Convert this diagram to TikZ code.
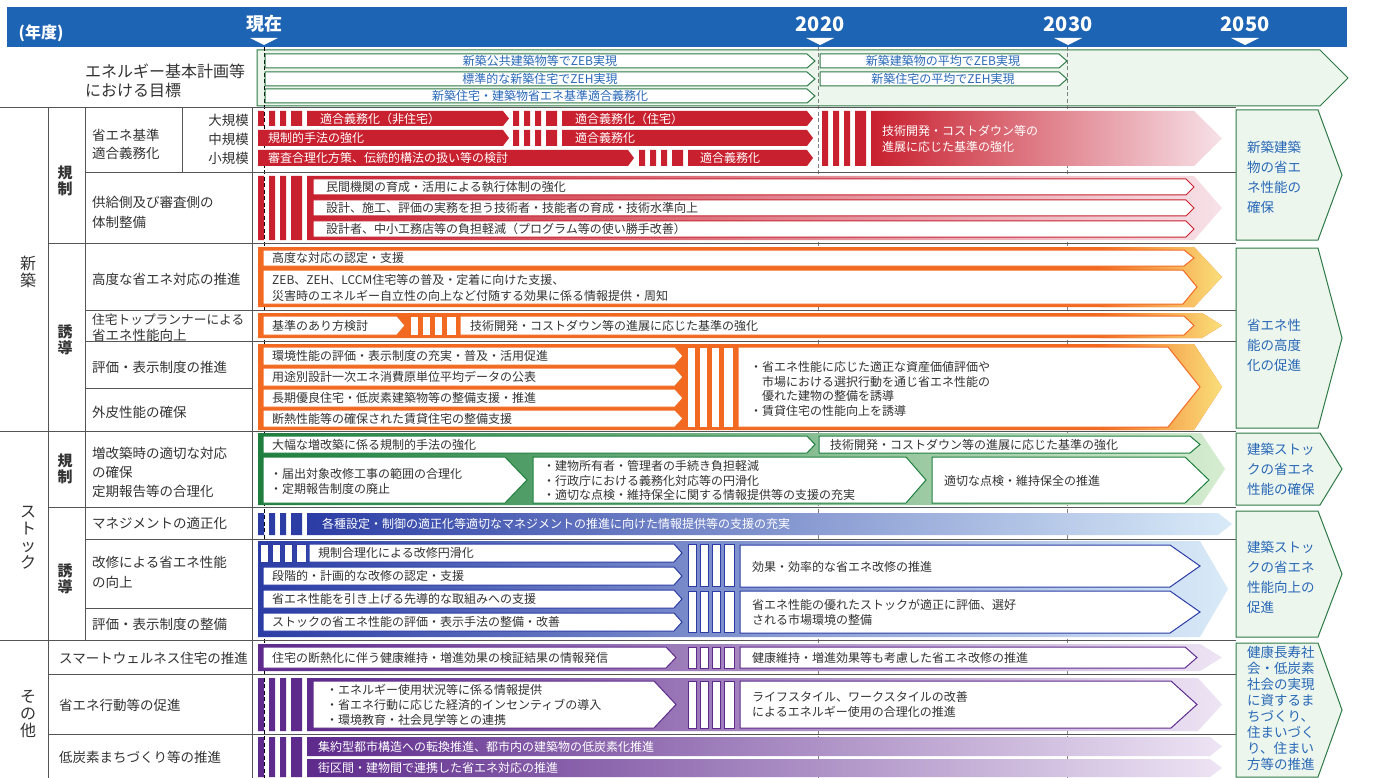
\documentclass[tikz,border=0pt]{standalone}
\usepackage{fontspec}
\setmainfont{Noto Sans CJK JP}
\definecolor{hdr}{HTML}{1E64B4}
\definecolor{gfill}{HTML}{EDF6EC}
\definecolor{gdraw}{HTML}{2E7A47}
\definecolor{gtext}{HTML}{2868B8}
\definecolor{rd}{HTML}{C8202E}
\definecolor{pk}{HTML}{F7E1E8}
\definecolor{org}{HTML}{F26A22}
\definecolor{yel}{HTML}{FAE27C}
\definecolor{grn}{HTML}{1F7F3F}
\definecolor{lgrn}{HTML}{D5ECD0}
\definecolor{blu}{HTML}{2B3DA5}
\definecolor{lblu}{HTML}{D9EBF8}
\definecolor{pur}{HTML}{5E2A8C}
\definecolor{lpur}{HTML}{EDE4F4}
\definecolor{txt}{HTML}{333333}
\definecolor{gridc}{HTML}{555555}
\newcommand\chev[6][]{\path[#1] (#2,#3) -- ({#4-#6},#3) -- (#4,{(#3+#5)/2}) -- ({#4-#6},#5) -- (#2,#5) -- cycle;}
\newcommand\chevclip[5]{\clip (#1,#2) -- ({#3-#5},#2) -- (#3,{(#2+#4)/2}) -- ({#3-#5},#4) -- (#1,#4) -- cycle;}
\newcommand\rstripes[4]{\fill[#1] (#2,#3) rectangle ({#2+6},#4) ({#2+11},#3) rectangle ({#2+17},#4) ({#2+22},#3) rectangle ({#2+28},#4) ({#2+33},#3) rectangle ({#2+44},#4);}
\newcommand\wstripes[4]{\path[fill=white,draw=#1,line width=0.8pt] (#2,#3) rectangle ({#2+8},#4) ({#2+12},#3) rectangle ({#2+20},#4) ({#2+24},#3) rectangle ({#2+32},#4) ({#2+36},#3) rectangle ({#2+46},#4);}
\newcommand\orgbg[3]{\chev[fill=org]{258}{#1}{1222}{#2}{#3}
 \begin{scope}\chevclip{258}{#1}{1222}{#2}{#3}\shade[left color=org,right color=yel] (1100,#1) rectangle (1225,#2);\end{scope}}
\tikzset{
  wa/.style={fill=white,draw=#1,line width=1pt},
  goalbox/.style={fill=gfill,draw=gdraw,line width=1pt},
  bt/.style={anchor=west,inner sep=0pt,font=\fontsize{12}{15}\selectfont,text=txt},
  wt/.style={bt,text=white},
  bl/.style={inner sep=0pt,font=\fontsize{12}{15}\selectfont,text=gtext},
  lab/.style={anchor=west,inner sep=0pt,font=\fontsize{13.5}{17}\selectfont,text=txt},
  sect/.style={inner sep=0pt,font=\fontsize{16}{17}\selectfont,text=txt,align=center},
  subl/.style={inner sep=0pt,font=\bfseries\fontsize{15}{16}\selectfont,text=txt,align=center},
  gt/.style={anchor=west,inner sep=0pt,text=gtext,align=left,font=\fontsize{13.5}{20}\selectfont},
  hd/.style={inner sep=0pt,text=white,font=\bfseries\fontsize{20}{22}\selectfont},
  rowline/.style={draw=gridc,line width=0.9pt},
  tl/.style={draw=#1,line width=0.8pt,dash pattern=on 4pt off 2.5pt},
}
\begin{document}
\begin{tikzpicture}[x=1pt,y=-1pt]
\useasboundingbox (0,0) rectangle (1373,778);
\fill[white] (0,0) rectangle (1373,778);
% header
\fill[hdr] (7,7) rectangle (1347,47);
\node[hd,font=\bfseries\fontsize{16}{18}\selectfont] (yr) at (41,33) {(年度)};
\node[hd,font=\bfseries\fontsize{18}{20}\selectfont] (now) at (264,24) {現在};
\node[hd] (y20) at (820,24) {2020};
\node[hd] (y30) at (1068,24) {2030};
\node[hd] (y50) at (1245,24) {2050};
\foreach \x in {264,820,1068,1245} \fill[white] ({\x-14},38) -- ({\x+14},38) -- (\x,45) -- cycle;
% goal row
\chev[goalbox]{257}{50}{1348}{106}{28}
% time lines and grid
\draw[tl=black] (264,47) -- (264,778);
\draw[tl=gray] (818,47) -- (818,778);
\draw[tl=gray] (1067,47) -- (1067,778);
\draw[rowline] (0,107) -- (1236,107);
\draw[rowline] (85,172) -- (1236,172);
\draw[rowline] (48,243) -- (1236,243);
\draw[rowline] (85,310) -- (1236,310);
\draw[rowline] (85,341) -- (1236,341);
\draw[rowline] (85,388) -- (252,388);
\draw[rowline] (0,431) -- (1236,431);
\draw[rowline] (48,507) -- (1236,507);
\draw[rowline] (85,539) -- (1236,539);
\draw[rowline] (85,608) -- (252,608);
\draw[rowline] (0,640) -- (1236,640);
\draw[rowline] (48,674) -- (1236,674);
\draw[rowline] (48,734) -- (1236,734);
\draw[rowline] (48,107) -- (48,778);
\draw[rowline] (85,107) -- (85,640);
\draw[rowline] (252,107) -- (252,778);
\draw[rowline] (182,107) -- (182,172);
% goal row inner arrows
\chev[wa=gdraw]{265}{54}{815}{68}{8}
\chev[wa=gdraw]{265}{72}{815}{86}{8}
\chev[wa=gdraw]{265}{89}{815}{103}{8}
\chev[wa=gdraw]{820}{54}{1067}{68}{8}
\chev[wa=gdraw]{820}{72}{1067}{86}{8}
\node[bl] (m1) at (540,61) {新築公共建築物等でZEB実現};
\node[bl] (m2) at (540,79) {標準的な新築住宅でZEH実現};
\node[bl] (m3) at (540,96) {新築住宅・建築物省エネ基準適合義務化};
\node[bl] (m4) at (943,61) {新築建築物の平均でZEB実現};
\node[bl] (m5) at (943,79) {新築住宅の平均でZEH実現};
\node[anchor=west,inner sep=0pt,font=\fontsize{16}{18}\selectfont,text=txt] (mg1) at (85,71) {エネルギー基本計画等};
\node[anchor=west,inner sep=0pt,font=\fontsize{16}{18}\selectfont,text=txt] (mg2) at (85,90) {における目標};
% ===== red: 新築 規制
\rstripes{rd}{258}{111}{126}
\chev[fill=rd]{307}{111}{509}{126}{6}
\rstripes{rd}{513}{111}{126}
\chev[fill=rd]{562}{111}{813}{126}{6}
\chev[fill=rd]{258}{130}{509}{146}{6}
\rstripes{rd}{513}{130}{146}
\chev[fill=rd]{562}{130}{813}{146}{6}
\chev[fill=rd]{258}{150}{634}{166}{6}
\rstripes{rd}{639}{150}{166}
\chev[fill=rd]{688}{150}{813}{166}{6}
\rstripes{rd}{822}{111}{166}
\chev[left color=rd,middle color=rd!75!pk,right color=pk]{871}{111}{1222}{166}{28}
\node[wt] (r1) at (320,118.5) {適合義務化（非住宅）};
\node[wt] (r2) at (575,118.5) {適合義務化（住宅）};
\node[wt] (r3) at (268,138) {規制的手法の強化};
\node[wt] (r4) at (575,138) {適合義務化};
\node[wt] (r5) at (268,158) {審査合理化方策、伝統的構法の扱い等の検討};
\node[wt] (r6) at (700,158) {適合義務化};
\node[wt] (r7) at (882,131) {技術開発・コストダウン等の};
\node[wt] (r8) at (882,147) {進展に応じた基準の強化};
\rstripes{rd}{258}{176}{240}
\chev[left color=rd,right color=pk]{307}{176}{1222}{240}{28}
\chev[wa=rd]{313}{179}{1194}{195}{8}
\chev[wa=rd]{313}{200}{1194}{216}{8}
\chev[wa=rd]{313}{221}{1194}{237}{8}
\node[bt] (r9) at (326,187) {民間機関の育成・活用による執行体制の強化};
\node[bt] (r10) at (326,208) {設計、施工、評価の実務を担う技術者・技能者の育成・技術水準向上};
\node[bt] (r11) at (326,229) {設計者、中小工務店等の負担軽減（プログラム等の使い勝手改善）};
% ===== orange: 新築 誘導
\orgbg{247}{307}{28}
\chev[wa=org]{263}{250}{1194}{266}{10}
\chev[wa=org]{263}{270}{1197}{304}{14}
\node[bt] (o1) at (272,258) {高度な対応の認定・支援};
\node[bt] (o2) at (272,280) {ZEB、ZEH、LCCM住宅等の普及・定着に向けた支援、};
\node[bt] (o3) at (272,296) {災害時のエネルギー自立性の向上など付随する効果に係る情報提供・周知};
\orgbg{313}{338}{20}
\chev[wa=org]{263}{316}{405}{335}{8}
\wstripes{org}{410}{316}{335}
\chev[wa=org]{460}{316}{1194}{335}{10}
\node[bt] (o4) at (272,325.5) {基準のあり方検討};
\node[bt] (o5) at (470,325.5) {技術開発・コストダウン等の進展に応じた基準の強化};
\orgbg{344}{430}{28}
\chev[wa=org]{263}{347}{683}{365}{8}
\chev[wa=org]{263}{368}{683}{386}{8}
\chev[wa=org]{263}{389}{683}{407}{8}
\chev[wa=org]{263}{410}{683}{427}{8}
\wstripes{org}{687}{347}{427}
\chev[wa=org]{738}{347}{1200}{427}{32}
\node[bt] (o6) at (272,356) {環境性能の評価・表示制度の充実・普及・活用促進};
\node[bt] (o7) at (272,377) {用途別設計一次エネ消費原単位平均データの公表};
\node[bt] (o8) at (272,398) {長期優良住宅・低炭素建築物等の整備支援・推進};
\node[bt] (o9) at (272,418.5) {断熱性能等の確保された賃貸住宅の整備支援};
\node[bt] (o10) at (750,367) {・省エネ性能に応じた適正な資産価値評価や};
\node[bt] (o11) at (762,381.5) {市場における選択行動を通じ省エネ性能の};
\node[bt] (o12) at (762,396) {優れた建物の整備を誘導};
\node[bt] (o13) at (750,411) {・賃貸住宅の性能向上を誘導};
% ===== green: ストック 規制
\chev[left color=grn,right color=lgrn]{258}{433}{1225}{505}{24}
\chev[wa=grn]{263}{436}{815}{453}{8}
\chev[wa=grn]{819}{436}{1200}{453}{10}
\chev[wa=grn]{263}{457}{527}{503}{22}
\chev[wa=grn]{533}{457}{926}{503}{20}
\chev[wa=grn]{932}{457}{1209}{503}{24}
\node[bt] (s1) at (272,445) {大幅な増改築に係る規制的手法の強化};
\node[bt] (s2) at (830,445) {技術開発・コストダウン等の進展に応じた基準の強化};
\node[bt] (s3) at (270,474) {・届出対象改修工事の範囲の合理化};
\node[bt] (s4) at (270,489) {・定期報告制度の廃止};
\node[bt] (s5) at (543,466) {・建物所有者・管理者の手続き負担軽減};
\node[bt] (s6) at (543,480.5) {・行政庁における義務化対応等の円滑化};
\node[bt] (s7) at (543,495) {・適切な点検・維持保全に関する情報提供等の支援の充実};
\node[bt] (s8) at (944,481) {適切な点検・維持保全の推進};
% ===== blue: ストック 誘導
\rstripes{blu}{258}{513}{535}
\chev[left color=blu,right color=lblu]{307}{513}{1232}{535}{14}
\node[wt] (b1) at (322,524) {各種設定・制御の適正化等適切なマネジメントの推進に向けた情報提供等の支援の充実};
\chev[left color=blu,right color=lblu]{258}{541}{1228}{637}{28}
\wstripes{blu}{260}{544}{562}
\chev[wa=blu]{309}{544}{682}{562}{8}
\chev[wa=blu]{263}{567}{682}{585}{8}
\chev[wa=blu]{263}{590}{682}{608}{8}
\chev[wa=blu]{263}{613}{682}{631}{8}
\wstripes{blu}{688}{544}{586}
\wstripes{blu}{688}{591}{632}
\chev[wa=blu]{740}{545}{1200}{587}{30}
\chev[wa=blu]{740}{591}{1200}{633}{30}
\node[bt] (b2) at (318,553) {規制合理化による改修円滑化};
\node[bt] (b3) at (272,576) {段階的・計画的な改修の認定・支援};
\node[bt] (b4) at (272,599) {省エネ性能を引き上げる先導的な取組みへの支援};
\node[bt] (b5) at (272,622) {ストックの省エネ性能の評価・表示手法の整備・改善};
\node[bt] (b6) at (752,567) {効果・効率的な省エネ改修の推進};
\node[bt] (b7) at (752,605) {省エネ性能の優れたストックが適正に評価、選好};
\node[bt] (b8) at (752,620) {される市場環境の整備};
% ===== purple: その他
\chev[left color=pur,right color=lpur]{258}{644}{1222}{671}{22}
\chev[wa=pur]{263}{647}{676}{668}{10}
\wstripes{pur}{688}{647}{668}
\chev[wa=pur]{740}{647}{1197}{668}{12}
\node[bt] (p1) at (272,658) {住宅の断熱化に伴う健康維持・増進効果の検証結果の情報発信};
\node[bt] (p2) at (752,658) {健康維持・増進効果等も考慮した省エネ改修の推進};
\rstripes{pur}{258}{678}{731}
\chev[left color=pur,right color=lpur]{307}{678}{1222}{731}{24}
\chev[wa=pur]{313}{681}{676}{728}{22}
\wstripes{pur}{688}{681}{728}
\chev[wa=pur]{740}{681}{1197}{728}{26}
\node[bt] (p3) at (326,690) {・エネルギー使用状況等に係る情報提供};
\node[bt] (p4) at (326,705) {・省エネ行動に応じた経済的インセンティブの導入};
\node[bt] (p5) at (326,720) {・環境教育・社会見学等との連携};
\node[bt] (p6) at (752,697) {ライフスタイル、ワークスタイルの改善};
\node[bt] (p7) at (752,712) {によるエネルギー使用の合理化の推進};
\rstripes{pur}{258}{737}{777}
\chev[left color=pur,right color=lpur]{307}{737}{1222}{756}{12}
\chev[left color=pur,right color=lpur]{307}{759}{1222}{777}{12}
\node[wt] (p8) at (318,747) {集約型都市構造への転換推進、都市内の建築物の低炭素化推進};
\node[wt] (p9) at (318,768) {街区間・建物間で連携した省エネ対応の推進};
% ===== goals
\chev[goalbox]{1236}{110}{1342}{240}{24}
\chev[goalbox]{1236}{248}{1342}{428}{24}
\chev[goalbox]{1236}{433}{1342}{505}{22}
\chev[goalbox]{1236}{511}{1342}{637}{24}
\chev[goalbox]{1236}{643}{1342}{777}{24}
\node[gt] (g1) at (1247,177) {新築建築\\物の省エ\\ネ性能の\\確保};
\node[gt] (g2) at (1247,345) {省エネ性\\能の高度\\化の促進};
\node[gt] (g3) at (1247,469) {建築ストッ\\クの省エネ\\性能の確保};
\node[gt] (g4) at (1247,577) {建築ストッ\\クの省エネ\\性能向上の\\促進};
\node[gt,font=\fontsize{13.5}{16}\selectfont] (g5) at (1247,708) {健康長寿社\\会・低炭素\\社会の実現\\に資するま\\ちづくり、\\住まいづく\\り、住まい\\方等の推進};
% ===== left labels
\node[sect] (k1) at (28,272) {新\\築};
\node[sect] (k2) at (28,538) {ス\\ト\\ッ\\ク};
\node[sect] (k3) at (28,714) {そ\\の\\他};
\node[subl] (c1) at (65,181) {規\\制};
\node[subl] (c2) at (65,340) {誘\\導};
\node[subl] (c3) at (65,469) {規\\制};
\node[subl] (c4) at (65,579) {誘\\導};
\node[lab] (l1) at (92,135) {省エネ基準};
\node[lab] (l2) at (92,153) {適合義務化};
\node[lab,anchor=east] (l3) at (249,120) {大規模};
\node[lab,anchor=east] (l4) at (249,139) {中規模};
\node[lab,anchor=east] (l5) at (249,158) {小規模};
\node[lab] (l6) at (92,202) {供給側及び審査側の};
\node[lab] (l7) at (92,222) {体制整備};
\node[lab] (l8) at (92,279) {高度な省エネ対応の推進};
\node[lab,font=\fontsize{12.7}{15}\selectfont] (l9) at (92,320) {住宅トップランナーによる};
\node[lab] (l10) at (92,335) {省エネ性能向上};
\node[lab] (l11) at (92,367) {評価・表示制度の推進};
\node[lab] (l12) at (92,412) {外皮性能の確保};
\node[lab] (l13) at (92,453) {増改築時の適切な対応};
\node[lab] (l14) at (92,472) {の確保};
\node[lab] (l15) at (92,491) {定期報告等の合理化};
\node[lab] (l16) at (92,523) {マネジメントの適正化};
\node[lab] (l17) at (92,562) {改修による省エネ性能};
\node[lab] (l18) at (92,582) {の向上};
\node[lab] (l19) at (92,624) {評価・表示制度の整備};
\node[lab] (l20) at (59,658) {スマートウェルネス住宅の推進};
\node[lab] (l21) at (59,705) {省エネ行動等の促進};
\node[lab] (l22) at (59,757) {低炭素まちづくり等の推進};
\end{tikzpicture}
\end{document}
